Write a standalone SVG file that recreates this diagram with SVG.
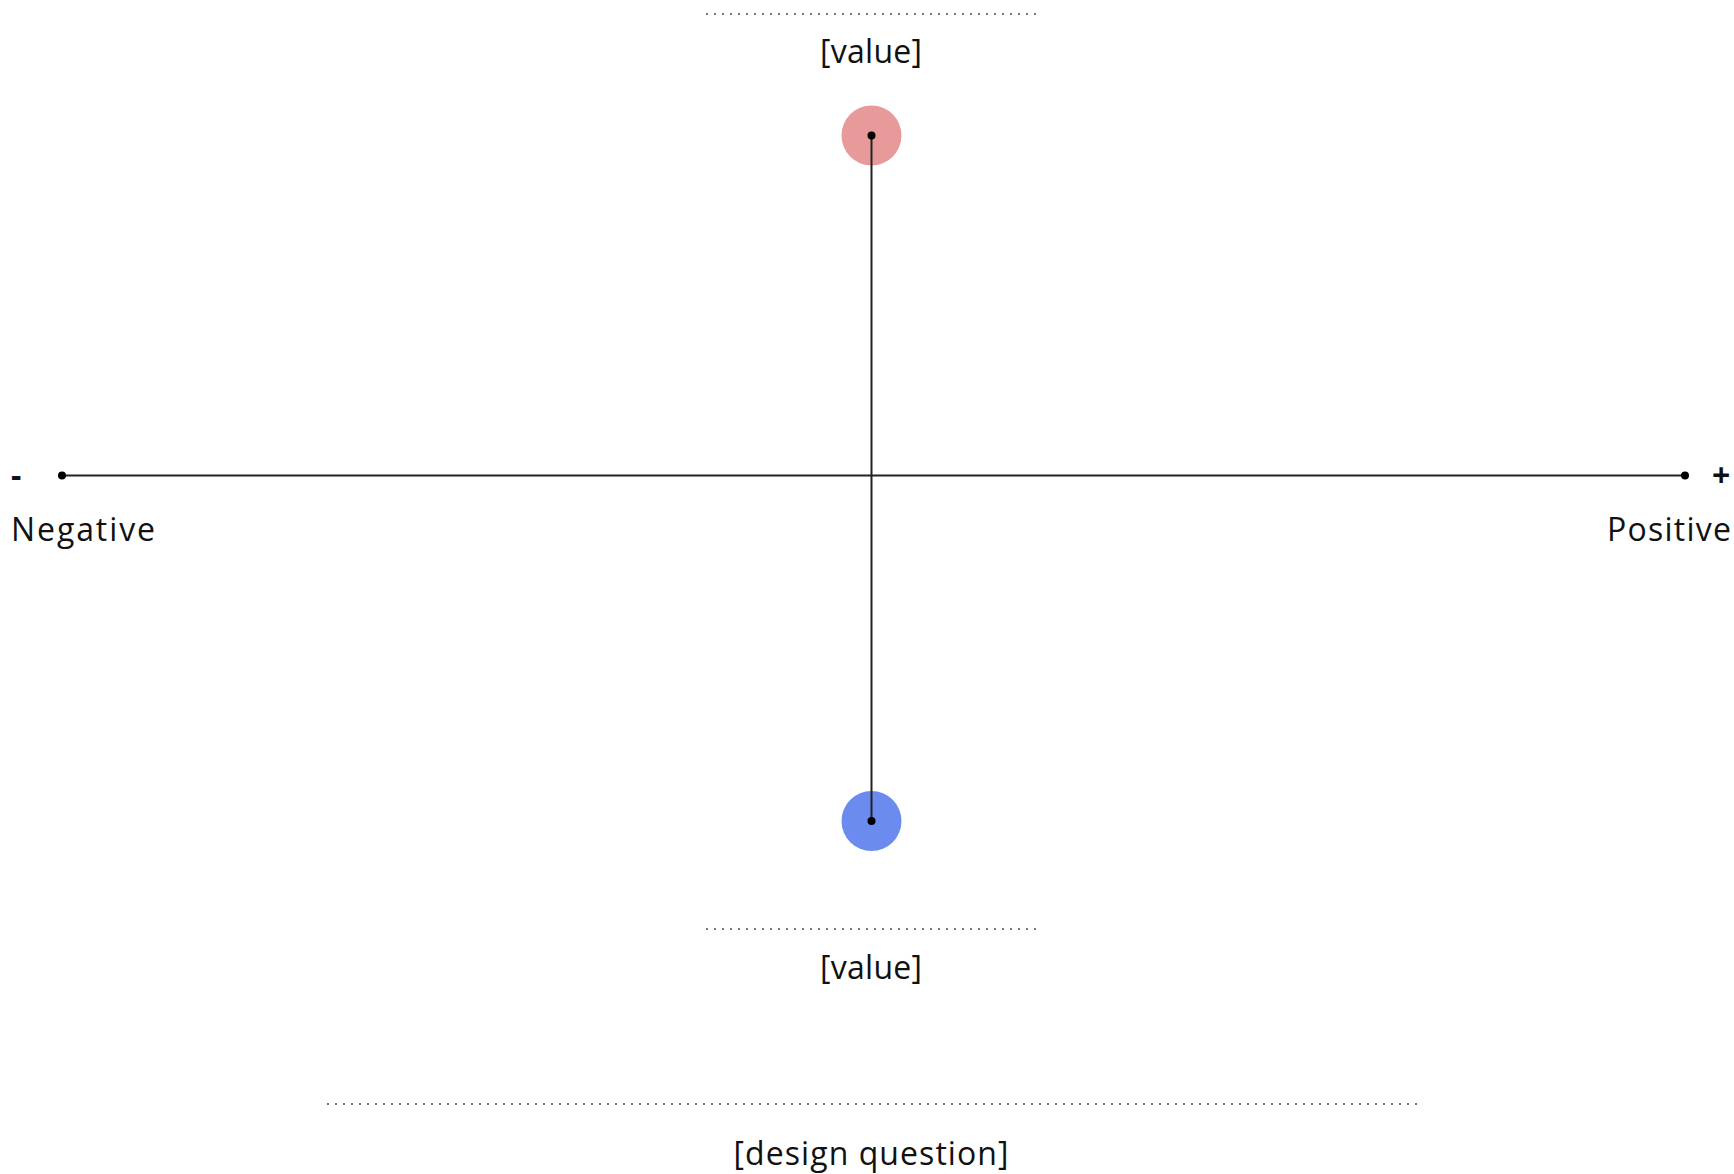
<svg xmlns="http://www.w3.org/2000/svg" width="1734" height="1174" viewBox="0 0 1734 1174">
<style>
text{font-family:"Open Sans","Noto Sans","Liberation Sans",sans-serif;fill:#111;}
.lbl{font-size:32px;}
.sign{font-size:32px;font-weight:bold;}
.dots{stroke:#777;stroke-width:2;stroke-dasharray:2 6;fill:none;}
.axis{stroke:#222;stroke-width:2;fill:none;}
.pt{fill:#000;}
</style>
<rect width="1734" height="1174" fill="#fff"/>
<g id="top-value">
<line class="dots" x1="706" y1="14" x2="1036" y2="14"/>
<text class="lbl" x="871" y="63" text-anchor="middle" textLength="102">[value]</text>
</g>
<g id="bottom-value">
<line class="dots" x1="706" y1="929" x2="1036" y2="929"/>
<text class="lbl" x="871" y="979" text-anchor="middle" textLength="102">[value]</text>
</g>
<g id="design-question">
<line class="dots" x1="327" y1="1104" x2="1418" y2="1104"/>
<text class="lbl" x="871" y="1165" text-anchor="middle" textLength="275">[design question]</text>
</g>
<g id="top-circle">
<circle cx="871.5" cy="135.5" r="30" fill="#E89A9A"/>
</g>
<g id="bottom-circle">
<circle cx="871.5" cy="821" r="30" fill="#6B8BEE"/>
</g>
<g id="connectors">
<line class="axis" x1="62" y1="475.5" x2="1685" y2="475.5"/>
<line class="axis" x1="871.5" y1="135.5" x2="871.5" y2="821"/>
<circle class="pt" cx="62" cy="475.5" r="4"/>
<circle class="pt" cx="1685" cy="475.5" r="4"/>
<circle class="pt" cx="871.5" cy="135.5" r="4"/>
<circle class="pt" cx="871.5" cy="821" r="4"/>
</g>
<g id="negative">
<text class="sign" x="11" y="487">-</text>
<text class="lbl" x="11" y="541" textLength="144">Negative</text>
</g>
<g id="positive">
<text class="sign" x="1712" y="487">+</text>
<text class="lbl" x="1731" y="541" text-anchor="end" textLength="124">Positive</text>
</g>
</svg>
